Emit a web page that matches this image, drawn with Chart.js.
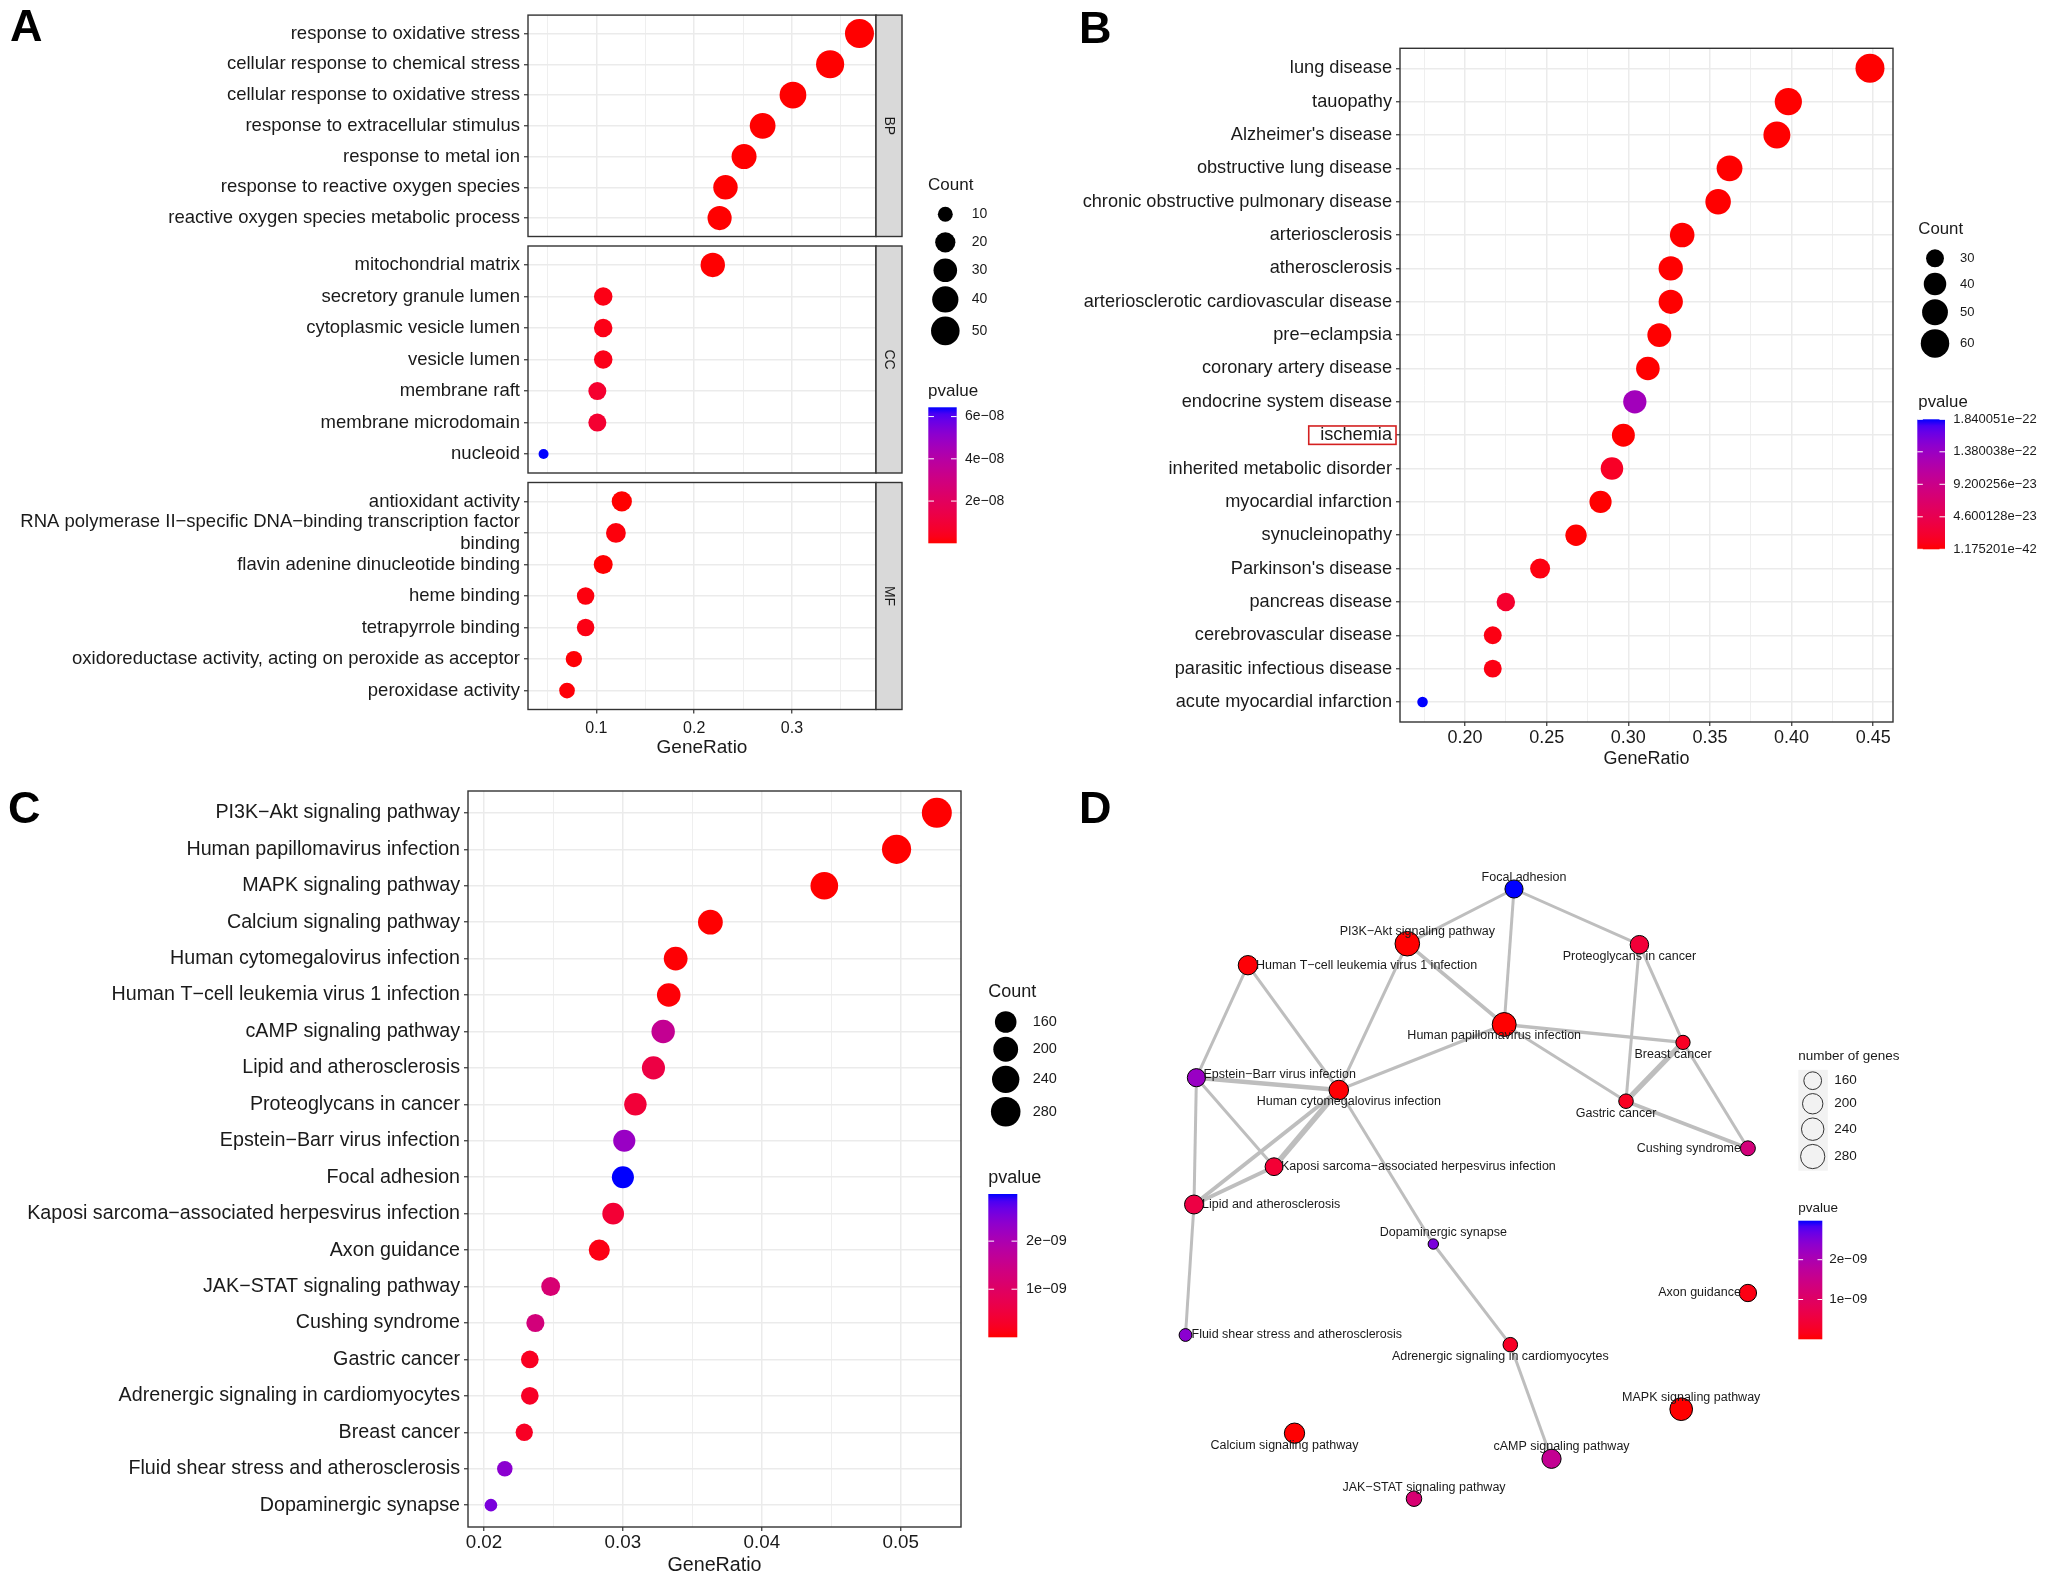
<!DOCTYPE html>
<html>
<head>
<meta charset="utf-8">
<title>Enrichment panels</title>
<script src="https://cdn.jsdelivr.net/npm/chart.js@4.4.1/dist/chart.umd.min.js"></script>
<style>
  body { margin: 0; background: #fff; }
  #page { position: relative; width: 2050px; height: 1582px; overflow: hidden; background: #fff; }
  #page canvas { position: absolute; left: 0; top: 0; }
  .tag { position: absolute; font: bold 45px 'Liberation Sans', Arial, sans-serif; line-height: 1; color: #000; }
</style>
</head>
<body>
<div id="page">
  <canvas id="aBP" width="2050" height="1582"></canvas>
  <canvas id="aCC" width="2050" height="1582"></canvas>
  <canvas id="aMF" width="2050" height="1582"></canvas>
  <canvas id="b" width="2050" height="1582"></canvas>
  <canvas id="c" width="2050" height="1582"></canvas>
  <canvas id="d" width="2050" height="1582"></canvas>
  <div class="tag" style="left:10px;top:3px">A</div>
  <div class="tag" style="left:1079px;top:5px">B</div>
  <div class="tag" style="left:8px;top:785px">C</div>
  <div class="tag" style="left:1079px;top:785px">D</div>
</div>
<script>
/* ---------- A : GO enrichment (BP / CC / MF) ---------- */
const goBP = ['response to oxidative stress', 'cellular response to chemical stress', 'cellular response to oxidative stress',
  'response to extracellular stimulus', 'response to metal ion', 'response to reactive oxygen species',
  'reactive oxygen species metabolic process'];
const goBPRatio = [0.369, 0.339, 0.301, 0.270, 0.251, 0.232, 0.226];
const goBPCount = [52, 48, 42, 38, 35, 33, 32];
const goBPP = [2.1e-21, 5.3e-19, 1.4e-18, 3.6e-15, 8.9e-14, 2.2e-13, 6.0e-13];

const goCC = ['mitochondrial matrix', 'secretory granule lumen', 'cytoplasmic vesicle lumen', 'vesicle lumen',
  'membrane raft', 'membrane microdomain', 'nucleoid'];
const goCCRatio = [0.219, 0.107, 0.107, 0.107, 0.101, 0.101, 0.046];
const goCCCount = [33, 16, 16, 16, 15, 15, 7];
const goCCP = [1.1e-10, 2.4e-9, 2.6e-9, 2.8e-9, 7.5e-9, 8.1e-9, 6.44e-8];

const goMF = ['antioxidant activity', 'RNA polymerase II\u2212specific DNA\u2212binding transcription factor\nbinding',
  'flavin adenine dinucleotide binding', 'heme binding', 'tetrapyrrole binding',
  'oxidoreductase activity, acting on peroxide as acceptor', 'peroxidase activity'];
const goMFRatio = [0.126, 0.120, 0.107, 0.089, 0.089, 0.077, 0.070];
const goMFCount = [20, 19, 17, 14, 14, 12, 11];
const goMFP = [3.3e-11, 1.2e-9, 2.0e-10, 1.5e-9, 2.3e-9, 5.0e-10, 7.4e-10];

const goTicks = [0.1, 0.2, 0.3];
const goTickLabels = ['0.1', '0.2', '0.3'];
const goSizeBreaks = [10, 20, 30, 40, 50];
const goPBreaks = [2e-8, 4e-8, 6e-8];
const goPLabels = ['2e\u221208', '4e\u221208', '6e\u221208'];

/* ---------- B : disease ontology ---------- */
const doCats = ['lung disease', 'tauopathy', "Alzheimer's disease", 'obstructive lung disease',
  'chronic obstructive pulmonary disease', 'arteriosclerosis', 'atherosclerosis',
  'arteriosclerotic cardiovascular disease', 'pre\u2212eclampsia', 'coronary artery disease',
  'endocrine system disease', 'ischemia', 'inherited metabolic disorder', 'myocardial infarction',
  'synucleinopathy', "Parkinson's disease", 'pancreas disease', 'cerebrovascular disease',
  'parasitic infectious disease', 'acute myocardial infarction'];
const doRatio = [0.448, 0.398, 0.391, 0.362, 0.355, 0.333, 0.326, 0.326, 0.319, 0.312,
  0.304, 0.297, 0.290, 0.283, 0.268, 0.246, 0.225, 0.217, 0.217, 0.174];
const doCount = [62, 55, 54, 50, 49, 46, 45, 45, 44, 43, 42, 41, 40, 39, 37, 34, 31, 30, 30, 24];
const doP = [1.175201e-42, 3.4e-38, 2.1e-37, 5.5e-34, 1.9e-33, 6.2e-31, 2.7e-30, 3.1e-30, 8.4e-29, 1.6e-28,
  1.32e-22, 4.4e-27, 1.6e-23, 6.3e-26, 2.0e-25, 4.9e-24, 2.1e-23, 5.8e-24, 6.0e-24, 1.840051e-22];
const doTicks = [0.20, 0.25, 0.30, 0.35, 0.40, 0.45];
const doTickLabels = ['0.20', '0.25', '0.30', '0.35', '0.40', '0.45'];
const doSizeBreaks = [30, 40, 50, 60];
const doPBreaks = [1.175201e-42, 4.600128e-23, 9.200256e-23, 1.380038e-22, 1.840051e-22];
const doPLabels = ['1.175201e\u221242', '4.600128e\u221223', '9.200256e\u221223', '1.380038e\u221222', '1.840051e\u221222'];

/* ---------- C : KEGG ---------- */
const keggCats = ['PI3K\u2212Akt signaling pathway', 'Human papillomavirus infection', 'MAPK signaling pathway',
  'Calcium signaling pathway', 'Human cytomegalovirus infection', 'Human T\u2212cell leukemia virus 1 infection',
  'cAMP signaling pathway', 'Lipid and atherosclerosis', 'Proteoglycans in cancer', 'Epstein\u2212Barr virus infection',
  'Focal adhesion', 'Kaposi sarcoma\u2212associated herpesvirus infection', 'Axon guidance',
  'JAK\u2212STAT signaling pathway', 'Cushing syndrome', 'Gastric cancer', 'Adrenergic signaling in cardiomyocytes',
  'Breast cancer', 'Fluid shear stress and atherosclerosis', 'Dopaminergic synapse'];
const keggRatio = [0.0526, 0.0497, 0.0445, 0.0363, 0.0338, 0.0333, 0.0329, 0.0322, 0.0309, 0.0301,
  0.0300, 0.0293, 0.0283, 0.0248, 0.0237, 0.0233, 0.0233, 0.0229, 0.0215, 0.0205];
const keggCount = [289, 273, 245, 199, 186, 183, 181, 177, 170, 166, 165, 161, 155, 136, 131, 128, 128, 126, 118, 113];
const keggP = [4.1e-16, 1.3e-14, 8.8e-14, 2.9e-12, 2.0e-11, 3.0e-11, 1.62e-9, 6.0e-10, 4.5e-10, 2.25e-9,
  2.98e-9, 4.2e-10, 1.0e-10, 1.2e-9, 1.3e-9, 2.2e-10, 2.6e-10, 2.4e-10, 2.4e-9, 2.55e-9];
const keggTicks = [0.02, 0.03, 0.04, 0.05];
const keggTickLabels = ['0.02', '0.03', '0.04', '0.05'];
const keggSizeBreaks = [160, 200, 240, 280];
const keggPBreaks = [1e-9, 2e-9];
const keggPLabels = ['1e\u221209', '2e\u221209'];

/* ---------- D : network of the KEGG terms (same order as keggCats) ---------- */
const netX = [25.73, 35.42, 53.12, 14.45, 18.88, 9.79, 40.15, 4.40, 48.94, 4.64,
  36.40, 12.40, 59.79, 26.40, 59.79, 47.60, 36.03, 53.30, 3.55, 28.33];
const netY = [8.37, 16.45, 54.92, 57.32, 23.00, 10.52, 59.88, 34.45, 8.47, 21.77,
  2.90, 30.67, 43.30, 63.87, 28.83, 24.12, 48.47, 18.24, 47.50, 38.40];
const netEdges = [[10, 0], [10, 1], [10, 8], [0, 1], [0, 4], [5, 9], [5, 4], [1, 4], [1, 17], [1, 15],
  [8, 15], [8, 17], [17, 15], [17, 14], [15, 14], [9, 4], [9, 11], [9, 7], [4, 11], [4, 7],
  [11, 7], [4, 19], [7, 18], [19, 16], [16, 6]];
const netSim = [0.22, 0.22, 0.22, 0.28, 0.22, 0.22, 0.22, 0.22, 0.26, 0.22,
  0.22, 0.22, 0.45, 0.22, 0.30, 0.38, 0.22, 0.22, 0.48, 0.32,
  0.32, 0.22, 0.22, 0.22, 0.22];

/* ---------- drawing ---------- */
const FONT = "'Liberation Sans', Arial, sans-serif";
Chart.defaults.font.family = FONT;
Chart.defaults.color = '#1a1a1a';
const PAGE_W = 2050, PAGE_H = 1582;

// red -> blue through Lab, like ggplot's gradient
function toLab(rgb) {
  const lin = c => { c /= 255; return c <= 0.04045 ? c / 12.92 : Math.pow((c + 0.055) / 1.055, 2.4); };
  const [r, g, b] = rgb.map(lin);
  const f = t => t > 0.008856 ? Math.cbrt(t) : 7.787 * t + 16 / 116;
  const X = f((r * 0.4124 + g * 0.3576 + b * 0.1805) / 0.95047);
  const Y = f(r * 0.2126 + g * 0.7152 + b * 0.0722);
  const Z = f((r * 0.0193 + g * 0.1192 + b * 0.9505) / 1.08883);
  return [116 * Y - 16, 500 * (X - Y), 200 * (Y - Z)];
}
function fromLab(L, a, bb) {
  const fy = (L + 16) / 116, fx = a / 500 + fy, fz = fy - bb / 200;
  const inv = t => t * t * t > 0.008856 ? t * t * t : (t - 16 / 116) / 7.787;
  const X = inv(fx) * 0.95047, Y = inv(fy), Z = inv(fz) * 1.08883;
  const out = c => {
    c = c <= 0.0031308 ? 12.92 * c : 1.055 * Math.pow(c, 1 / 2.4) - 0.055;
    return Math.round(Math.min(1, Math.max(0, c)) * 255);
  };
  return 'rgb(' + out(X * 3.2406 - Y * 1.5372 - Z * 0.4986) + ',' + out(-X * 0.9689 + Y * 1.8758 + Z * 0.0415) + ',' +
    out(X * 0.0557 - Y * 0.2040 + Z * 1.0570) + ')';
}
const LAB_LO = toLab([255, 0, 0]), LAB_HI = toLab([0, 0, 255]);
function mix(t) {
  t = Math.min(1, Math.max(0, t));
  return fromLab(LAB_LO[0] + (LAB_HI[0] - LAB_LO[0]) * t, LAB_LO[1] + (LAB_HI[1] - LAB_LO[1]) * t,
    LAB_LO[2] + (LAB_HI[2] - LAB_LO[2]) * t);
}
function colorScale(ps) {
  const lo = Math.min(...ps), hi = Math.max(...ps);
  const f = p => mix((p - lo) / (hi - lo));
  f.lo = lo; f.hi = hi;
  return f;
}
// area scaling of point size, as scale_size does
function sizeScale(counts, rMin, rMax) {
  const lo = Math.min(...counts), hi = Math.max(...counts);
  return c => rMin + (rMax - rMin) * Math.sqrt(Math.max(0, (c - lo) / (hi - lo)));
}

// panel border and facet strip
const frame = {
  id: 'frame',
  afterDatasetsDraw(chart, args, o) {
    if (!o || !o.on) return;
    const { ctx, chartArea: a } = chart;
    ctx.save();
    ctx.strokeStyle = '#333';
    ctx.lineWidth = 1.4;
    ctx.strokeRect(a.left, a.top, a.width, a.height);
    if (o.strip) {
      ctx.fillStyle = '#D9D9D9';
      ctx.fillRect(a.right, a.top, o.stripW, a.height);
      ctx.strokeRect(a.right, a.top, o.stripW, a.height);
      ctx.translate(a.right + o.stripW / 2, (a.top + a.bottom) / 2);
      ctx.rotate(Math.PI / 2);
      ctx.fillStyle = '#1a1a1a';
      ctx.font = '14px ' + FONT;
      ctx.textAlign = 'center';
      ctx.textBaseline = 'middle';
      ctx.fillText(o.strip, 0, 0);
    }
    ctx.restore();
  }
};

// size legend + colour bar
const keyLegend = {
  id: 'keyLegend',
  afterDraw(chart, args, o) {
    if (!o || !o.sizeBreaks) return;
    const ctx = chart.ctx;
    ctx.save();
    ctx.textAlign = 'left';
    ctx.textBaseline = 'middle';
    ctx.fillStyle = '#1a1a1a';
    ctx.font = o.titleSize + 'px ' + FONT;
    ctx.fillText(o.sizeTitle, o.x, o.sizeTitleY);

    const rs = o.sizeBreaks.map(o.rad);
    const hs = rs.map(r => Math.max(o.keyMin, 2 * r + o.keyPad));
    const ys = [];
    let y = o.firstY;
    hs.forEach((h, i) => { if (i) y += (hs[i - 1] + h) / 2; ys.push(y); });
    if (o.keyBg) {
      const top = ys[0] - hs[0] / 2, bot = ys[ys.length - 1] + hs[hs.length - 1] / 2;
      ctx.fillStyle = o.keyBg;
      ctx.fillRect(o.x, top, o.keyW, bot - top);
    }
    ctx.font = o.labelSize + 'px ' + FONT;
    rs.forEach((r, i) => {
      ctx.beginPath();
      ctx.arc(o.cx, ys[i], r, 0, Math.PI * 2);
      if (o.open) { ctx.strokeStyle = '#333'; ctx.lineWidth = 1; ctx.stroke(); }
      else { ctx.fillStyle = '#000'; ctx.fill(); }
      ctx.fillStyle = '#1a1a1a';
      ctx.fillText(o.sizeLabels[i], o.labelX, ys[i]);
    });

    ctx.font = o.titleSize + 'px ' + FONT;
    ctx.fillText('pvalue', o.x, o.pTitleY);
    const b = o.bar;
    const grad = ctx.createLinearGradient(0, b.y + b.h, 0, b.y);
    for (let k = 0; k <= 20; k++) grad.addColorStop(k / 20, mix(k / 20));
    ctx.fillStyle = grad;
    ctx.fillRect(b.x, b.y, b.w, b.h);
    ctx.font = o.labelSize + 'px ' + FONT;
    o.pBreaks.forEach((v, i) => {
      const py = b.y + b.h - (v - o.col.lo) / (o.col.hi - o.col.lo) * b.h;
      ctx.strokeStyle = '#fff';
      ctx.lineWidth = 1;
      ctx.beginPath();
      ctx.moveTo(b.x, py); ctx.lineTo(b.x + b.w / 5, py);
      ctx.moveTo(b.x + b.w, py); ctx.lineTo(b.x + b.w * 4 / 5, py);
      ctx.stroke();
      ctx.fillStyle = '#1a1a1a';
      ctx.fillText(o.pLabels[i], o.pLabelX, py);
    });
    ctx.restore();
  }
};

// red frame around one y label
const boxLabel = {
  id: 'boxLabel',
  afterDraw(chart, args, o) {
    if (!o || o.index == null) return;
    const { ctx, chartArea, scales } = chart;
    ctx.save();
    ctx.font = o.fontSize + 'px ' + FONT;
    const w = ctx.measureText(o.text).width;
    const right = chartArea.left - 4;
    const py = scales.y.getPixelForValue(o.index);
    ctx.strokeStyle = '#D42020';
    ctx.lineWidth = 1.6;
    ctx.strokeRect(right - w - 15.5, py - 9.2, w + 15.5, 18.4);
    ctx.restore();
  }
};

function dotChart(id, d) {
  const majors = d.xTicks;
  const half = (majors[1] - majors[0]) / 2;
  const lines = [];
  for (let v = majors[0] - half; v < d.xMax; v += half) if (v > d.xMin) lines.push(+v.toFixed(6));
  const majorIdx = v => majors.findIndex(m => Math.abs(m - v) < 1e-6);
  const n = d.cats.length;
  const radii = d.count.map(d.rad);
  return new Chart(document.getElementById(id), {
    type: 'scatter',
    data: {
      datasets: [{
        data: d.ratio.map((r, i) => ({ x: r, y: i })),
        pointRadius: radii,
        pointHoverRadius: radii,
        pointBackgroundColor: d.pval.map(d.col),
        pointBorderWidth: 0
      }]
    },
    options: {
      responsive: false, animation: false, devicePixelRatio: 1, events: [],
      layout: { padding: { left: 0, top: d.box.top, right: PAGE_W - d.box.right, bottom: PAGE_H - d.box.bottom - d.xH } },
      plugins: {
        legend: { display: false }, tooltip: { enabled: false },
        frame: { on: true, strip: d.strip, stripW: 26 },
        keyLegend: d.legend || {},
        boxLabel: d.mark || {}
      },
      scales: {
        x: {
          type: 'linear', min: d.xMin, max: d.xMax,
          afterBuildTicks: ax => { ax.ticks = lines.map(v => ({ value: v })); },
          afterFit: ax => { ax.height = d.xH; },
          border: { display: false },
          grid: {
            color: '#EBEBEB',
            lineWidth: c => (c.tick && majorIdx(c.tick.value) >= 0) ? 1.5 : 0.8,
            drawTicks: d.showX,
            tickLength: 4,
            tickWidth: 1.2,
            tickColor: c => (c.tick && majorIdx(c.tick.value) >= 0) ? '#333' : 'rgba(0,0,0,0)'
          },
          ticks: {
            display: d.showX, autoSkip: false, maxRotation: 0, padding: d.xPad,
            font: { size: d.xFont }, color: '#1a1a1a',
            callback: v => majorIdx(v) >= 0 ? d.xLabels[majorIdx(v)] : ''
          },
          title: { display: d.showX, text: 'GeneRatio', font: { size: d.titleFont }, color: '#1a1a1a', padding: 0 }
        },
        y: {
          type: 'linear', reverse: true, min: -0.6, max: n - 0.4,
          afterBuildTicks: ax => { ax.ticks = d.cats.map((c, i) => ({ value: i })); },
          afterFit: ax => { ax.width = d.box.left; },
          border: { display: false },
          grid: { color: '#EBEBEB', lineWidth: 1.5, tickLength: 4, tickWidth: 1.2, tickColor: '#333' },
          ticks: {
            autoSkip: false, padding: 4, font: { size: d.yFont }, color: '#1a1a1a',
            callback: v => d.cats[v] === undefined ? '' : d.cats[v].split('\n')
          }
        }
      }
    },
    plugins: [frame, keyLegend, boxLabel]
  });
}

/* A */
const rA = sizeScale([...goBPCount, ...goCCCount, ...goMFCount], 5, 14.5);
const colA = colorScale([...goBPP, ...goCCP, ...goMFP]);
const aCommon = { xMin: 0.0301, xMax: 0.3859, xTicks: goTicks, xLabels: goTickLabels, rad: rA, col: colA,
  yFont: 18.5, xFont: 16, titleFont: 19, xPad: 5 };
dotChart('aBP', Object.assign({}, aCommon, {
  cats: goBP, ratio: goBPRatio, count: goBPCount, pval: goBPP, strip: 'BP',
  box: { left: 528, right: 876, top: 9.5, bottom: 236.5 }, showX: false, xH: 0,
  legend: {
    sizeTitle: 'Count', sizeBreaks: goSizeBreaks, sizeLabels: goSizeBreaks.map(String), rad: rA, col: colA,
    x: 928, sizeTitleY: 185, cx: 945.3, firstY: 214.3, keyMin: 28, keyPad: 4, labelX: 971.7,
    pTitleY: 391.7, bar: { x: 928.3, y: 407.3, w: 28.4, h: 136 }, pBreaks: goPBreaks, pLabels: goPLabels,
    pLabelX: 965, titleSize: 17, labelSize: 14
  }
}));
dotChart('aCC', Object.assign({}, aCommon, {
  cats: goCC, ratio: goCCRatio, count: goCCCount, pval: goCCP, strip: 'CC',
  box: { left: 528, right: 876, top: 246, bottom: 473 }, showX: false, xH: 0
}));
dotChart('aMF', Object.assign({}, aCommon, {
  cats: goMF, ratio: goMFRatio, count: goMFCount, pval: goMFP, strip: 'MF',
  box: { left: 528, right: 876, top: 482.5, bottom: 709.5 }, showX: true, xH: 50
}));

/* B */
const rB = sizeScale(doCount, 5.3, 14.5);
const colB = colorScale(doP);
dotChart('b', {
  cats: doCats, ratio: doRatio, count: doCount, pval: doP, rad: rB, col: colB,
  xMin: 0.1602, xMax: 0.4621, xTicks: doTicks, xLabels: doTickLabels,
  box: { left: 1400, right: 1893, top: 48.3, bottom: 722 }, showX: true, xH: 47.8,
  yFont: 18.2, xFont: 18, titleFont: 18, xPad: 1.5,
  mark: { index: doCats.indexOf('ischemia'), text: 'ischemia', fontSize: 18.2 },
  legend: {
    sizeTitle: 'Count', sizeBreaks: doSizeBreaks, sizeLabels: doSizeBreaks.map(String), rad: rB, col: colB,
    x: 1918.3, sizeTitleY: 229.3, cx: 1935, firstY: 258.3, keyMin: 25, keyPad: 4, labelX: 1960,
    pTitleY: 402.7, bar: { x: 1917.3, y: 419.3, w: 27.7, h: 130 }, pBreaks: doPBreaks, pLabels: doPLabels,
    pLabelX: 1953.3, titleSize: 16.8, labelSize: 13
  }
});

/* C */
const rC = sizeScale(keggCount, 6.3, 15);
const colC = colorScale(keggP);
dotChart('c', {
  cats: keggCats, ratio: keggRatio, count: keggCount, pval: keggP, rad: rC, col: colC,
  xMin: 0.01885, xMax: 0.05434, xTicks: keggTicks, xLabels: keggTickLabels,
  box: { left: 468, right: 961, top: 791, bottom: 1527 }, showX: true, xH: 50.8,
  yFont: 19.7, xFont: 18.8, titleFont: 19.7, xPad: 1,
  legend: {
    sizeTitle: 'Count', sizeBreaks: keggSizeBreaks, sizeLabels: keggSizeBreaks.map(String), rad: rC, col: colC,
    x: 988.3, sizeTitleY: 991.7, cx: 1005.7, firstY: 1022, keyMin: 17, keyPad: 4, labelX: 1032.7,
    pTitleY: 1178.3, bar: { x: 988.3, y: 1194, w: 29, h: 143.3 }, pBreaks: keggPBreaks, pLabels: keggPLabels,
    pLabelX: 1026, titleSize: 18, labelSize: 14.5
  }
});

/* D : term network */
const rD = sizeScale(keggCount, 5.2, 12.3);
// label placement next to each node: dx, dy (px), alignment
const netLabelPos = [[10, -12, 'center'], [-10, 11, 'center'], [10, -12, 'center'], [-10, 12, 'center'],
  [10, 12, 'center'], [8, 0, 'left'], [10, -12, 'center'], [8, 0, 'left'], [-10, 12, 'center'], [7, -3, 'left'],
  [10, -11, 'center'], [7, 0, 'left'], [-7, 0, 'right'], [10, -11, 'center'], [-7, 0, 'right'],
  [-10, 12, 'center'], [-10, 12, 'center'], [-10, 12, 'center'], [6, 0, 'left'], [10, -11, 'center']];
const netLabels = {
  id: 'netLabels',
  afterDatasetsDraw(chart) {
    const { ctx, scales: { x, y } } = chart;
    ctx.save();
    ctx.font = '12.5px ' + FONT;
    ctx.fillStyle = '#1a1a1a';
    ctx.textBaseline = 'middle';
    keggCats.forEach((name, i) => {
      const [dx, dy, al] = netLabelPos[i];
      ctx.textAlign = al;
      ctx.fillText(name, x.getPixelForValue(netX[i]) + dx, y.getPixelForValue(netY[i]) + dy);
    });
    ctx.restore();
  }
};
new Chart(document.getElementById('d'), {
  type: 'scatter',
  data: {
    datasets: [{
      data: netX.map((x, i) => ({ x: x, y: netY[i] })),
      order: 0,
      pointRadius: keggCount.map(rD),
      pointHoverRadius: keggCount.map(rD),
      pointBackgroundColor: keggP.map(colC),
      pointBorderColor: '#000',
      pointBorderWidth: 1
    }].concat(netEdges.map((e, k) => ({
      data: e.map(i => ({ x: netX[i], y: netY[i] })),
      showLine: true,
      order: 1,
      borderColor: '#BEBEBE',
      borderWidth: 0.8 + 10 * netSim[k],
      pointRadius: 0
    })))
  },
  options: {
    responsive: false, animation: false, devicePixelRatio: 1, events: [],
    layout: { padding: { left: 1150, top: 860, right: PAGE_W - 1790, bottom: PAGE_H - 1520 } },
    scales: {
      x: { type: 'linear', display: false, min: 0, max: 64 },
      y: { type: 'linear', display: false, min: 0, max: 66, reverse: true }
    },
    plugins: {
      legend: { display: false }, tooltip: { enabled: false },
      keyLegend: {
        sizeTitle: 'number of genes', sizeBreaks: keggSizeBreaks, sizeLabels: keggSizeBreaks.map(String), rad: rD, col: colC,
        x: 1798.3, sizeTitleY: 1056, cx: 1812.7, firstY: 1080.7, keyMin: 17, keyPad: 4, labelX: 1834.3,
        open: true, keyBg: '#F2F2F2', keyW: 29.5,
        pTitleY: 1208.3, bar: { x: 1798.3, y: 1220.7, w: 24, h: 118.6 }, pBreaks: keggPBreaks, pLabels: keggPLabels,
        pLabelX: 1829.3, titleSize: 13.5, labelSize: 13.5
      }
    }
  },
  plugins: [netLabels, keyLegend]
});
</script>
</body>
</html>
